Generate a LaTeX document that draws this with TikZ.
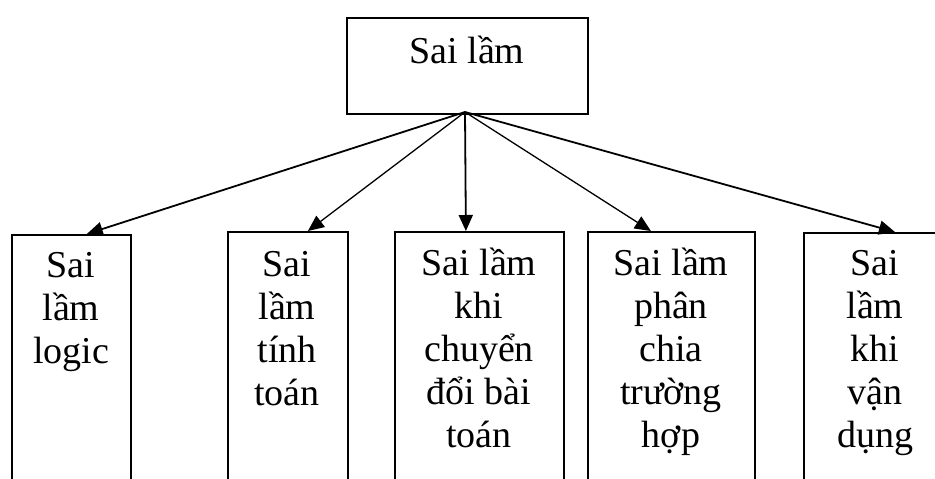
\documentclass[tikz,border=0pt]{standalone}
\usepackage{fontspec}
\setmainfont{Liberation Serif}
\usetikzlibrary{arrows.meta}
\begin{document}
\begin{tikzpicture}[x=1pt,y=-1pt,
  box/.style={draw=black,line width=1.8pt,rectangle,inner sep=0pt,anchor=north west},
  lbl/.style={anchor=base,align=center,inner sep=0pt,font=\fontsize{38}{43}\selectfont},
  thickarrow/.style={line width=1.8pt,-{Triangle[length=16pt,width=14pt]}},
  thinarrow/.style={line width=1.3pt,-{Triangle[length=16pt,width=14pt]}}]
\useasboundingbox (0,0) rectangle (935,479);
\clip (0,0) rectangle (935,479);
% top box
\node[box,minimum width=241,minimum height=96] (top) at (346,17) {};
\node[lbl] (ttop) at (467,63) {Sai lầm};
\coordinate (apex) at (465,112);
% bottom boxes
\node[box,minimum width=119,minimum height=300] (b1) at (11,234) {};
\node[box,minimum width=120,minimum height=300] (b2) at (227,231) {};
\node[box,minimum width=169,minimum height=300] (b3) at (394,231) {};
\node[box,minimum width=167,minimum height=300] (b4) at (587,231) {};
\node[box,minimum width=150,minimum height=300] (b5) at (803,232) {};
% labels (base anchor = baseline of last line)
\node[lbl] (t1) at (71,363) {Sai\\lầm\\logic};
\node[lbl] (t2) at (287,405) {Sai\\lầm\\tính\\toán};
\node[lbl] (t3) at (479,447) {Sai lầm\\khi\\chuyển\\đổi bài\\toán};
\node[lbl] (t4) at (671,447) {Sai lầm\\phân\\chia\\trường\\hợp};
\node[lbl] (t5) at (875,447) {Sai\\lầm\\khi\\vận\\dụng};
% arrows
\draw[thickarrow] (apex) -- ([xshift=-45pt]b1.north east);
\draw[thinarrow] (apex) -- ([xshift=20pt]b2.north);
\draw[thickarrow] (apex) -- ([xshift=-13.5pt]b3.north);
\draw[thinarrow] (apex) -- ([xshift=-20.5pt]b4.north);
\draw[thickarrow] (apex) -- ([xshift=92pt]b5.north west);
\end{tikzpicture}
\end{document}
